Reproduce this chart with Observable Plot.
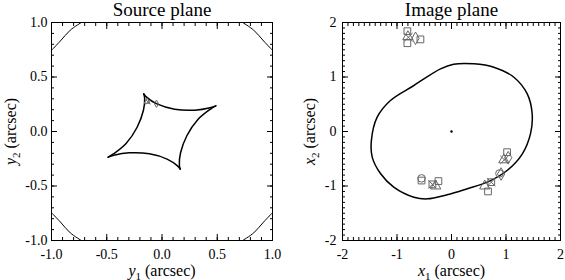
<!DOCTYPE html>
<html><head><meta charset="utf-8">
<script src="https://cdn.jsdelivr.net/npm/d3@7"></script>
<script src="https://cdn.jsdelivr.net/npm/@observablehq/plot@0.6"></script>
<style>
body{margin:0;background:#fff}
#wrap{display:flex;width:565px;height:280px;background:#fff}
#wrap svg{display:block}
</style></head><body><div id="wrap"></div>
<script>
// ---- data ----
const sourceMajorTicks = [-1, -0.5, 0, 0.5, 1];
const imageMajorTicks = [-2, -1, 0, 1, 2];
const sourceMinorTicks = d3.range(-10, 11).map(i => i / 10);
const imageMinorTicks = d3.range(-20, 21).map(i => i / 10);

// caustic (source plane), four concave edges between cusps
const causticEdge1 = [[0.487,0.235],[0.436,0.218],[0.296,0.196],[0.114,0.205],[-0.046,0.253],[-0.140,0.315],[-0.165,0.345]];
const causticEdge2 = [[-0.165,0.345],[-0.157,0.307],[-0.168,0.195],[-0.225,0.039],[-0.325,-0.110],[-0.440,-0.206],[-0.487,-0.235]];
const causticEdge3 = [[-0.487,-0.235],[-0.436,-0.218],[-0.296,-0.196],[-0.114,-0.205],[0.046,-0.253],[0.140,-0.315],[0.165,-0.345]];
const causticEdge4 = [[0.165,-0.345],[0.157,-0.307],[0.168,-0.195],[0.225,-0.039],[0.325,0.110],[0.440,0.206],[0.487,0.235]];

// outer circle arcs visible in the corners
const arcTopLeft = [[-1.0,0.745],[-0.92,0.83],[-0.83,0.93],[-0.73,1.0]];
const arcTopRight = [[1.0,0.745],[0.92,0.83],[0.83,0.93],[0.73,1.0]];
const arcBottomLeft = [[-1.0,-0.745],[-0.92,-0.83],[-0.83,-0.93],[-0.73,-1.0]];
const arcBottomRight = [[1.0,-0.745],[0.92,-0.83],[0.83,-0.93],[0.73,-1.0]];

// source-plane markers
const sourceTriangles = [[-0.135,0.275]];
const sourceTimes = [[-0.125,0.27]];
const sourceDiamonds = [[-0.05,0.255]];

// critical curve (image plane), closed
const criticalCurve = [[1.45,-0.04],[1.48,0.325],[1.39,0.69],[1.145,0.996],[0.777,1.18],[0.41,1.242],[0.04,1.235],[-0.202,1.15],[-0.69,0.844],[-1.12,0.569],[-1.364,0.263],[-1.47,-0.165],[-1.455,-0.47],[-1.30,-0.776],[-1.06,-1.02],[-0.69,-1.205],[-0.446,-1.236],[-0.08,-1.16],[0.29,-1.05],[0.655,-0.93],[1.02,-0.716],[1.30,-0.41]];
const lensCenter = [[0, 0]];

// image-plane markers
const imageSquares = [[-0.81,1.84],[-0.81,1.62],[-0.57,1.69],[-0.55,-0.90],[-0.35,-0.97],[-0.24,-0.91],[0.67,-1.10],[0.73,-0.93],[1.02,-0.38]];
const imageTriangles = [[-0.80,1.74],[-0.29,-1.00],[0.61,-1.00],[0.96,-0.52]];
const imageTimes = [[-0.79,1.73],[-0.35,-0.97],[0.73,-0.93],[0.97,-0.52]];
const imageDiamonds = [[-0.66,1.71],[0.91,-0.78],[1.04,-0.48]];
const imageCircles = [[-0.55,-0.86],[0.88,-0.77]];

// ---- helpers ----
const FONT = "Liberation Serif";
const X = d => d[0], Y = d => d[1];

function frameTicks(major, minor) {
  const mk = (anchor, data, size) =>
    (anchor === "bottom" || anchor === "top" ? Plot.axisX : Plot.axisY)(data, {
      anchor, tickSize: size, tickFormat: () => "", label: null, stroke: "black"
    });
  return ["bottom", "top", "left", "right"].flatMap(a => [mk(a, major, -6), mk(a, minor, -3)]);
}

function markers(sets, r) {
  return sets.map(([data, symbol]) => Plot.dot(data, {x: X, y: Y, symbol, r, fill: "none", stroke: "#666", strokeWidth: 1}));
}

function setLabel(svg, which, letter, sub) {
  const t = svg.querySelector(`[aria-label="${which}-axis label"] text`);
  if (!t) return;
  t.setAttribute("font-size", "16");
  t.innerHTML = `<tspan font-style="italic">${letter}</tspan><tspan font-size="11" dy="4">${sub}</tspan><tspan dy="-4"> (arcsec)</tspan>`;
}

function serifize(svg) {
  svg.setAttribute("font-family", FONT);
  svg.style.fontFamily = FONT;
  svg.querySelectorAll("g, text").forEach(el => { el.setAttribute("font-family", FONT); el.style.fontFamily = FONT; });
}

// ---- left: source plane ----
const left = Plot.plot({
  width: 282, height: 280,
  marginLeft: 51, marginRight: 10, marginTop: 22, marginBottom: 40,
  style: {fontSize: "14px", background: "white", color: "black", overflow: "visible"},
  x: {domain: [-1, 1]},
  y: {domain: [-1, 1]},
  marks: [
    Plot.line([arcTopLeft, arcTopRight, arcBottomLeft, arcBottomRight].flatMap((a, i) => a.map(p => [...p, i])),
      {x: X, y: Y, z: d => d[2], curve: "catmull-rom", stroke: "black", strokeWidth: 1, clip: true}),
    Plot.line([causticEdge1, causticEdge2, causticEdge3, causticEdge4].flatMap((a, i) => a.map(p => [...p, i])),
      {x: X, y: Y, z: d => d[2], curve: "catmull-rom", stroke: "black", strokeWidth: 1.5}),
    ...markers([[sourceTriangles, "triangle"], [sourceTimes, "times"], [sourceDiamonds, "diamond"]], 2.2),
    ...frameTicks(sourceMajorTicks, sourceMinorTicks),
    Plot.axisX(sourceMajorTicks, {anchor: "bottom", tickSize: 0, tickPadding: 9, tickFormat: d => d.toFixed(1), fontSize: 14,
      label: "y1 (arcsec)", labelAnchor: "center", labelOffset: 35, labelArrow: "none"}),
    Plot.axisY(sourceMajorTicks, {anchor: "left", tickSize: 0, tickPadding: 4, tickFormat: d => d.toFixed(1), fontSize: 14,
      label: "y2 (arcsec)", labelAnchor: "center", labelOffset: 47, labelArrow: "none"}),
    Plot.frame({stroke: "black"}),
    Plot.text(["Source plane"], {text: d => d, frameAnchor: "top", dy: -7, lineAnchor: "bottom", fontSize: 19})
  ]
});
setLabel(left, "x", "y", "1");
setLabel(left, "y", "y", "2");
serifize(left);

// ---- right: image plane ----
const right = Plot.plot({
  width: 283, height: 280,
  marginLeft: 60, marginRight: 5, marginTop: 22, marginBottom: 40,
  style: {fontSize: "14px", background: "white", color: "black", overflow: "visible"},
  x: {domain: [-2, 2]},
  y: {domain: [-2, 2]},
  marks: [
    Plot.line(criticalCurve, {x: X, y: Y, curve: "catmull-rom-closed", stroke: "black", strokeWidth: 1.5}),
    Plot.dot(lensCenter, {x: X, y: Y, r: 1.2, fill: "black"}),
    ...markers([[imageSquares, "square"], [imageTriangles, "triangle"], [imageTimes, "times"], [imageDiamonds, "diamond"], [imageCircles, "circle"]], 3.8),
    ...frameTicks(imageMajorTicks, imageMinorTicks),
    Plot.axisX(imageMajorTicks, {anchor: "bottom", tickSize: 0, tickPadding: 9, tickFormat: d => String(d), fontSize: 14,
      label: "x1 (arcsec)", labelAnchor: "center", labelOffset: 35, labelArrow: "none"}),
    Plot.axisY(imageMajorTicks, {anchor: "left", tickSize: 0, tickPadding: 6, tickFormat: d => String(d), fontSize: 14,
      label: "x2 (arcsec)", labelAnchor: "center", labelOffset: 39, labelArrow: "none"}),
    Plot.frame({stroke: "black"}),
    Plot.text(["Image plane"], {text: d => d, frameAnchor: "top", dy: -7, lineAnchor: "bottom", fontSize: 19})
  ]
});
setLabel(right, "x", "x", "1");
setLabel(right, "y", "x", "2");
serifize(right);

document.getElementById("wrap").append(left, right);
</script></body></html>
